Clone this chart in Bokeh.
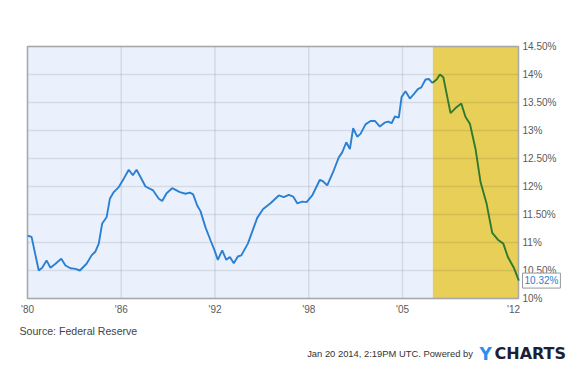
from bokeh.plotting import figure
from bokeh.models import Range1d, Label
from bokeh.core.properties import value
from bokeh.embed import file_html
from bokeh.resources import INLINE

# ---- data ----
years = [1980.02, 1980.26, 1980.72, 1980.94, 1981.22, 1981.47, 1981.79, 1982.16, 1982.43, 1982.75,
         1983.07, 1983.35, 1983.78, 1984.10, 1984.35, 1984.56, 1984.78, 1985.06, 1985.27, 1985.52,
         1985.84, 1986.16, 1986.48, 1986.74, 1986.98, 1987.23, 1987.55, 1988.04, 1988.40, 1988.62,
         1988.90, 1989.26, 1989.75, 1990.11, 1990.39, 1990.60, 1990.86, 1991.07, 1991.39, 1991.71,
         1991.97, 1992.18, 1992.46, 1992.72, 1992.95, 1993.20, 1993.46, 1993.68, 1994.10, 1994.48,
         1994.70, 1995.08, 1995.55, 1996.08, 1996.40, 1996.72, 1997.00, 1997.26, 1997.58, 1997.86,
         1998.22, 1998.71, 1998.92, 1999.18, 1999.60, 1999.92, 2000.14, 2000.40, 2000.63, 2000.84,
         2001.10, 2001.31, 2001.63, 2001.95, 2002.23, 2002.55, 2002.85, 2003.08, 2003.30, 2003.51,
         2003.76, 2003.94, 2004.19, 2004.47, 2004.72, 2004.98, 2005.20, 2005.47, 2005.68, 2005.90,
         2006.18, 2006.39, 2006.61, 2007.07, 2007.39, 2007.76, 2008.03, 2008.31, 2008.67, 2008.99,
         2009.38, 2009.74, 2010.10, 2010.45, 2010.74, 2011.12, 2011.44]
rate = [11.12, 11.10, 10.50, 10.55, 10.68, 10.55, 10.62, 10.71, 10.59, 10.54,
        10.53, 10.50, 10.62, 10.77, 10.84, 10.98, 11.34, 11.45, 11.78, 11.90,
        11.99, 12.14, 12.30, 12.20, 12.30, 12.17, 12.00, 11.93, 11.78, 11.74,
        11.88, 11.97, 11.90, 11.87, 11.89, 11.86, 11.66, 11.56, 11.27, 11.04,
        10.86, 10.69, 10.86, 10.69, 10.74, 10.63, 10.75, 10.77, 10.98, 11.27,
        11.44, 11.60, 11.70, 11.84, 11.81, 11.85, 11.82, 11.70, 11.73, 11.72,
        11.84, 12.12, 12.09, 12.02, 12.29, 12.52, 12.61, 12.79, 12.67, 13.04,
        12.89, 12.94, 13.11, 13.17, 13.17, 13.07, 13.14, 13.16, 13.13, 13.25,
        13.23, 13.60, 13.70, 13.57, 13.65, 13.74, 13.77, 13.91, 13.92, 13.85,
        13.91, 14.00, 13.95, 13.31, 13.40, 13.48, 13.24, 13.12, 12.67, 12.08,
        11.69, 11.17, 11.05, 10.98, 10.74, 10.55, 10.32]
last_value = 10.32

shade_start = 2005.94
x_start, x_end = 1980.0, 2011.42
y_min, y_max = 10.0, 14.5

x_ticks = [1980, 1986, 1992, 1998, 2004, 2011.1]
x_tick_labels = ["'80", "'86", "'92", "'98", "'05", "'12"]
y_ticks = [10, 10.5, 11, 11.5, 12, 12.5, 13, 13.5, 14, 14.5]
y_tick_labels = ["10%", "10.50%", "11%", "11.50%", "12%", "12.50%", "13%", "13.50%", "14%", "14.50%"]

source_text = "Source: Federal Reserve"
footer_text = "Jan 20 2014, 2:19PM UTC.  Powered by"

# ---- layout (canvas pixels) ----
W, H = 580, 372
PL, PR, PT, PB = 27, 518, 46, 298          # plot-area box inside the canvas
kx = (x_end - x_start) / (PR - PL)
ky = (y_max - y_min) / (PB - PT)

FONT = "Liberation Sans"
LABEL_COLOR = "#5a5a5a"

p = figure(width=W, height=H, output_backend="svg", toolbar_location=None,
           x_range=Range1d(x_start - PL * kx, x_start + (W - PL) * kx),
           y_range=Range1d(y_max - (H - PT) * ky, y_max + PT * ky),
           x_axis_location=None, y_axis_location=None,
           min_border=0, min_border_left=0, min_border_right=0,
           min_border_top=0, min_border_bottom=0)
p.grid.visible = False
p.outline_line_color = None
p.background_fill_color = "#ffffff"
p.border_fill_color = "#ffffff"

# plot area background and shaded band
p.quad(left=[x_start], right=[x_end], bottom=[y_min], top=[y_max],
       fill_color="#eaf1fc", line_color=None)
p.quad(left=[shade_start], right=[x_end], bottom=[y_min], top=[y_max],
       fill_color="#e8cf58", line_color=None)

# grid from the tick lists
gx = x_ticks[:-1]
p.segment(x0=gx, y0=[y_min] * len(gx), x1=gx, y1=[y_max] * len(gx),
          line_color="#000000", line_alpha=0.09, line_width=1.5)
p.segment(x0=[x_start] * len(y_ticks), y0=y_ticks, x1=[x_end] * len(y_ticks), y1=y_ticks,
          line_color="#000000", line_alpha=0.09, line_width=1.5)

# frame outline
p.quad(left=[x_start], right=[x_end], bottom=[y_min], top=[y_max],
       fill_color=None, line_color="#a8a8a8", line_width=1.5)

# series
split = next(i for i, y in enumerate(years) if y >= shade_start)
p.line(years[:split], rate[:split], line_color="#2b80d3", line_width=1.9)
p.line(years[split - 1:], rate[split - 1:], line_color="#2f7a30", line_width=1.9)

# tick labels
p.text(x=[x_end] * len(y_ticks), y=y_ticks, text=y_tick_labels, x_offset=4,
       text_font=value(FONT), text_font_size="10px", text_color=LABEL_COLOR,
       text_baseline="middle", text_align="left")
p.text(x=x_ticks, y=[y_min] * len(x_ticks), text=x_tick_labels, y_offset=11,
       text_font=value(FONT), text_font_size="10px", text_color=LABEL_COLOR,
       text_baseline="middle", text_align="center")

# end value callout
p.add_layout(Label(x=x_end, y=last_value, text=f"{last_value:.2f}%", x_offset=4,
                   text_font=FONT, text_font_size="10px", text_color="#2b80d3",
                   text_baseline="middle", text_align="left",
                   background_fill_color="#ffffff", border_line_color="#9a9a9a",
                   padding=2))

# source / footer (screen units from bottom-left)
p.add_layout(Label(x=19, y=H - 330, x_units="screen", y_units="screen",
                   text=source_text, text_font=FONT, text_font_size="10.6px",
                   text_color="#444444", text_baseline="middle"))
p.add_layout(Label(x=475, y=H - 353, x_units="screen", y_units="screen",
                   text=footer_text, text_font=FONT, text_font_size="9.4px",
                   text_color="#333333", text_baseline="middle", text_align="right"))
p.add_layout(Label(x=479, y=H - 353, x_units="screen", y_units="screen",
                   text="Y", text_font="DejaVu Sans", text_font_style="bold",
                   text_font_size="17px", text_color="#2a8ff0", text_baseline="middle"))
p.add_layout(Label(x=494, y=H - 353, x_units="screen", y_units="screen",
                   text="CHARTS", text_font="DejaVu Sans", text_font_style="bold",
                   text_font_size="16px", text_color="#1c2033", text_baseline="middle"))

open("out.html", "w").write(file_html(p, INLINE))
